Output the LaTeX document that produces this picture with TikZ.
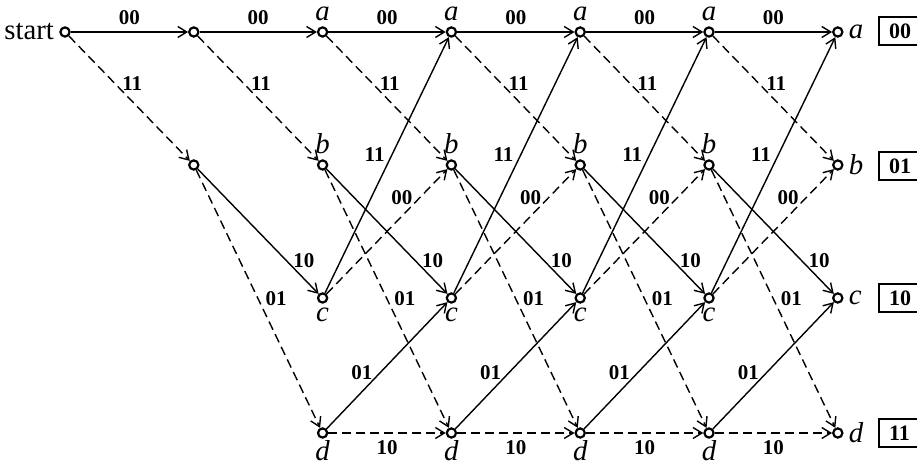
\documentclass[tikz,border=0pt]{standalone}
\usepackage{fontspec}
\setmainfont{Liberation Serif}
\usetikzlibrary{arrows.meta,positioning}

\begin{document}
\begin{tikzpicture}[
    x=0.5pt, y=-0.5pt,
    state/.style={circle, draw, line width=1.1pt, fill=white, inner sep=0pt, minimum size=4.6pt},
    branch/.style={line width=0.7pt, -{Straight Barb[length=4.5pt,width=5.5pt]}},
    zerobranch/.style={branch},
    onebranch/.style={branch, dash pattern=on 4.5pt off 2.5pt},
    bits/.style={font=\fontsize{10.5}{12}\bfseries},
    tag/.style={font=\Large\itshape, inner sep=1pt},
    outbox/.style={draw, line width=1pt, anchor=west, font=\fontsize{11}{13}\bfseries, align=left, text width=24pt, inner xsep=5pt, minimum height=12pt}
  ]
    \useasboundingbox (0,0) rectangle (917,464);

    % first two stages
    \node[state, label={[font=\Large, inner sep=2.5pt]left:start}] (s) at (65,32) {};
    \node[state] (a1) at (193.8,32) {};
    \node[state] (b1) at (193.8,165) {};

    % steady columns
    \foreach \i in {2,...,5} {
      \pgfmathsetmacro\xc{65+128.8*\i}
      \node[state, label={[tag, label distance=1.5pt]above:a}] (a\i) at (\xc,32) {};
      \node[state, label={[tag, label distance=1.5pt]above:b}] (b\i) at (\xc,165) {};
      \node[state, label={[tag, label distance=1pt]below:c}] (c\i) at (\xc,298) {};
      \node[state, label={[tag, inner sep=0.5pt]below:d}] (d\i) at (\xc,433) {};
    }
    \foreach \r/\y in {a/32, b/165, c/298, d/433}
      \node[state, label={[tag, label distance=1.5pt]right:\r}] (\r6) at (837.8,\y) {};

    % output boxes
    \foreach \r/\y/\t in {a/31/00, b/166/01, c/298/10, d/433/11}
      \node[outbox] (out\r) at (878,\y) {\t};

    \draw[zerobranch] (s) -- node[bits, above] {00} (a1);
    \draw[onebranch] (s) -- node[bits, pos=.38, right] {11} (b1);
    \draw[zerobranch] (a1) -- node[bits, above] {00} (a2);
    \draw[onebranch] (a1) -- node[bits, pos=.38, right] {11} (b2);
    \draw[zerobranch] (b1) -- node[bits, pos=.73, right] {10} (c2);
    \draw[onebranch] (b1) -- node[bits, pos=.5, right] {01} (d2);

    \foreach \i [evaluate=\i as \j using int(\i+1)] in {2,...,5} {
      \draw[zerobranch] (a\i) -- node[bits, above] {00} (a\j);
      \draw[onebranch] (a\i) -- node[bits, pos=.38, right] {11} (b\j);
      \draw[zerobranch] (b\i) -- node[bits, pos=.73, right] {10} (c\j);
      \draw[onebranch] (b\i) -- node[bits, pos=.5, right] {01} (d\j);
      \draw[zerobranch] (c\i) -- node[bits, pos=.54, left] {11} (a\j);
      \draw[onebranch] (c\i) -- node[bits, pos=.77, left] {00} (b\j);
      \draw[zerobranch] (d\i) -- node[bits, pos=.44, left] {01} (c\j);
      \draw[onebranch] (d\i) -- node[bits, below] {10} (d\j);
    }
  \end{tikzpicture}
\end{document}
